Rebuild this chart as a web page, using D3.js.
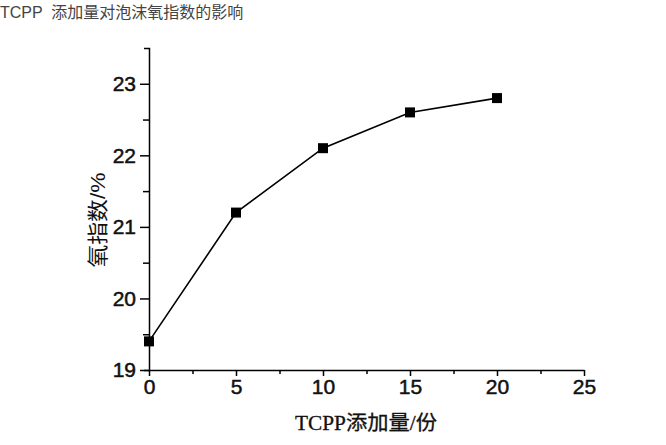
<!DOCTYPE html>
<html><head><meta charset="utf-8">
<script src="https://cdn.jsdelivr.net/npm/d3@7"></script>
<style>body{margin:0;background:#fff}svg{display:block}</style>
</head><body>
<script>
const xValues = [0, 5, 10, 15, 20];
const oxygenIndex = [19.4, 21.2, 22.1, 22.6, 22.8];
const xTicks = [0, 5, 10, 15, 20, 25];
const yTicks = [19, 20, 21, 22, 23];
const titleText = "TCPP  添加量对泡沫氧指数的影响";
const xTitle = "TCPP添加量/份";
const yTitle = "氧指数/%";

const W = 666, H = 445;
const svg = d3.select("body").append("svg").attr("width", W).attr("height", H);
const x = d3.scaleLinear().domain([0, 25]).range([149, 584]);
const y = d3.scaleLinear().domain([19, 23.5]).range([370, 48]);

svg.append("text").attr("x", 0).attr("y", 18)
  .attr("font-family", "'Liberation Sans', 'Noto Sans CJK SC', sans-serif")
  .attr("font-size", 16).attr("fill", "#444").attr("xml:space","preserve").text(titleText);

const font = "'Liberation Sans', Arial, sans-serif";
// x axis
const xa = svg.append("g").attr("transform", `translate(0,${y(19)})`)
  .call(d3.axisBottom(x).tickValues(xTicks).tickSize(6).tickPadding(3).tickSizeOuter(0).tickFormat(d3.format("d")));
const xm = svg.append("g").attr("transform", `translate(0,${y(19)})`)
  .call(d3.axisBottom(x).tickValues([2.5, 7.5, 12.5, 17.5, 22.5]).tickSize(4).tickFormat("").tickSizeOuter(0));
xm.select(".domain").remove();
// y axis
const ya = svg.append("g").attr("transform", `translate(${x(0)},0)`)
  .call(d3.axisLeft(y).tickValues(yTicks).tickSize(9).tickPadding(4).tickSizeOuter(5).tickFormat(d3.format("d")));
const ym = svg.append("g").attr("transform", `translate(${x(0)},0)`)
  .call(d3.axisLeft(y).tickValues([19.5, 20.5, 21.5, 22.5]).tickSize(6).tickFormat(""));
ym.select(".domain").remove();
svg.selectAll(".domain, .tick line").attr("stroke", "#000").attr("stroke-width", 1.5);
svg.selectAll(".tick text").attr("font-family", font).attr("font-size", 21).attr("fill", "#111")
  .attr("stroke", "#111").attr("stroke-width", 0.5);

// line
svg.append("path").datum(xValues.map((d, i) => [d, oxygenIndex[i]]))
  .attr("fill", "none").attr("stroke", "#000").attr("stroke-width", 1.6)
  .attr("d", d3.line().x(d => x(d[0])).y(d => y(d[1])));
const s = 10;
svg.selectAll("rect.pt").data(xValues).join("rect").attr("class", "pt")
  .attr("x", d => x(d) - s / 2).attr("y", (d, i) => y(oxygenIndex[i]) - s / 2)
  .attr("width", s).attr("height", s).attr("fill", "#000");

svg.append("text").attr("x", 366).attr("y", 430).attr("text-anchor", "middle")
  .attr("font-family", "'Liberation Serif', 'Noto Sans CJK SC', serif")
  .attr("font-size", 20).attr("fill", "#111").attr("stroke", "#111").attr("stroke-width", 0.3)
  .attr("textLength", 142).attr("lengthAdjust", "spacingAndGlyphs").text(xTitle);
svg.append("text").attr("transform", "translate(105,220) rotate(-90)").attr("text-anchor", "middle")
  .attr("font-family", "'Liberation Sans', 'Noto Sans CJK SC', sans-serif")
  .attr("font-size", 21).attr("fill", "#111")
  .attr("textLength", 95).attr("lengthAdjust", "spacingAndGlyphs").text(yTitle);
</script>
</body></html>
